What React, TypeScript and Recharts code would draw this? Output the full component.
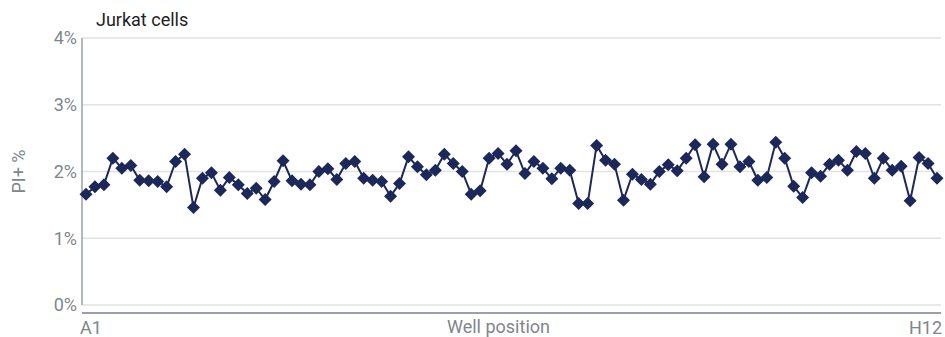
import { LineChart, Line, XAxis, YAxis, CartesianGrid } from "recharts";

// 8 rows x 12 columns, read row by row (A1, A2 ... H12)
const rows = ["A", "B", "C", "D", "E", "F", "G", "H"];
const cols = [1, 2, 3, 4, 5, 6, 7, 8, 9, 10, 11, 12];
const wells = rows.flatMap((r) => cols.map((c) => `${r}${c}`));

// PI+ percentage per well
const piPositive = [
  1.66, 1.77, 1.8, 2.2, 2.05, 2.09, 1.87, 1.86, 1.85, 1.77, 2.15, 2.26,
  1.46, 1.9, 1.98, 1.72, 1.91, 1.8, 1.67, 1.75, 1.58, 1.85, 2.16, 1.86,
  1.81, 1.8, 2.0, 2.04, 1.88, 2.12, 2.15, 1.9, 1.87, 1.85, 1.63, 1.82,
  2.22, 2.07, 1.95, 2.02, 2.26, 2.12, 2.0, 1.66, 1.71, 2.2, 2.27, 2.11,
  2.31, 1.97, 2.15, 2.05, 1.89, 2.05, 2.02, 1.52, 1.52, 2.39, 2.17, 2.11,
  1.57, 1.96, 1.88, 1.81, 2.0, 2.1, 2.01, 2.2, 2.4, 1.92, 2.41, 2.11,
  2.41, 2.07, 2.15, 1.87, 1.91, 2.44, 2.2, 1.78, 1.61, 1.98, 1.93, 2.11,
  2.17, 2.02, 2.3, 2.27, 1.9, 2.2, 2.02, 2.08, 1.56, 2.21, 2.12, 1.9,
];

const yTicks = [0, 1, 2, 3, 4];
const xTicks = ["A1", "H12"];

const data = wells.map((well, i) => ({ well, pi: piPositive[i] }));

const FONT = "Roboto, 'Noto Sans', sans-serif";
const GREY = "#80868b";
const NAVY = "#1c2859";

function Diamond(props: any) {
  const { cx, cy, index } = props;
  if (cx == null || cy == null) return null;
  const r = 6.5;
  return (
    <path
      key={`d-${index}`}
      d={`M${cx},${cy - r}L${cx + r},${cy}L${cx},${cy + r}L${cx - r},${cy}Z`}
      fill={NAVY}
    />
  );
}

function WellTick(props: any) {
  const { x, payload } = props;
  const first = payload.value === xTicks[0];
  return (
    <text
      x={first ? x - 6 : x + 5}
      y={334}
      textAnchor={first ? "start" : "end"}
      fill={GREY}
      fontSize={18}
      fontFamily={FONT}
    >
      {payload.value}
    </text>
  );
}

export default function App() {
  return (
    <div style={{ position: "absolute", left: 0, top: 0, background: "#fff" }}>
      <LineChart
        width={945}
        height={337}
        data={data}
        margin={{ top: 38, right: 4, left: 0, bottom: 0 }}
      >
        <text x={96} y={26} fontSize={18} fontFamily={FONT} fill="#202124">
          Jurkat cells
        </text>
        <CartesianGrid vertical={false} stroke="#e2e2e2" strokeWidth={1.5} />
        <XAxis
          dataKey="well"
          ticks={xTicks}
          interval={0}
          height={32}
          padding={{ left: 4, right: 4 }}
          tickLine={false}
          tick={<WellTick />}
          axisLine={{ stroke: "#9aa0a6", strokeWidth: 2, transform: "translate(0,8)" }}
          label={(p: any) => (
            <text
              x={p.viewBox.x + p.viewBox.width / 2 - 13}
              y={333}
              textAnchor="middle"
              fill={GREY}
              fontSize={18}
              fontFamily={FONT}
            >
              Well position
            </text>
          )}
        />
        <YAxis
          width={82}
          domain={[0, 4]}
          ticks={yTicks}
          tickFormatter={(v) => `${v}%`}
          tickLine={false}
          tickSize={0}
          tickMargin={5}
          axisLine={{ stroke: "#9aa0a6", strokeWidth: 1.5 }}
          tick={{ fill: GREY, fontSize: 18, fontFamily: FONT }}
          label={(p: any) => {
            const cy = p.viewBox.y + p.viewBox.height / 2;
            return (
              <text
                x={25}
                y={cy}
                transform={`rotate(-90 25 ${cy})`}
                textAnchor="middle"
                fill={GREY}
                fontSize={18}
                fontFamily={FONT}
              >
                PI+ %
              </text>
            );
          }}
        />
        <Line
          type="linear"
          dataKey="pi"
          stroke={NAVY}
          strokeWidth={2}
          dot={<Diamond />}
          activeDot={false}
          isAnimationActive={false}
        />
      </LineChart>
    </div>
  );
}
